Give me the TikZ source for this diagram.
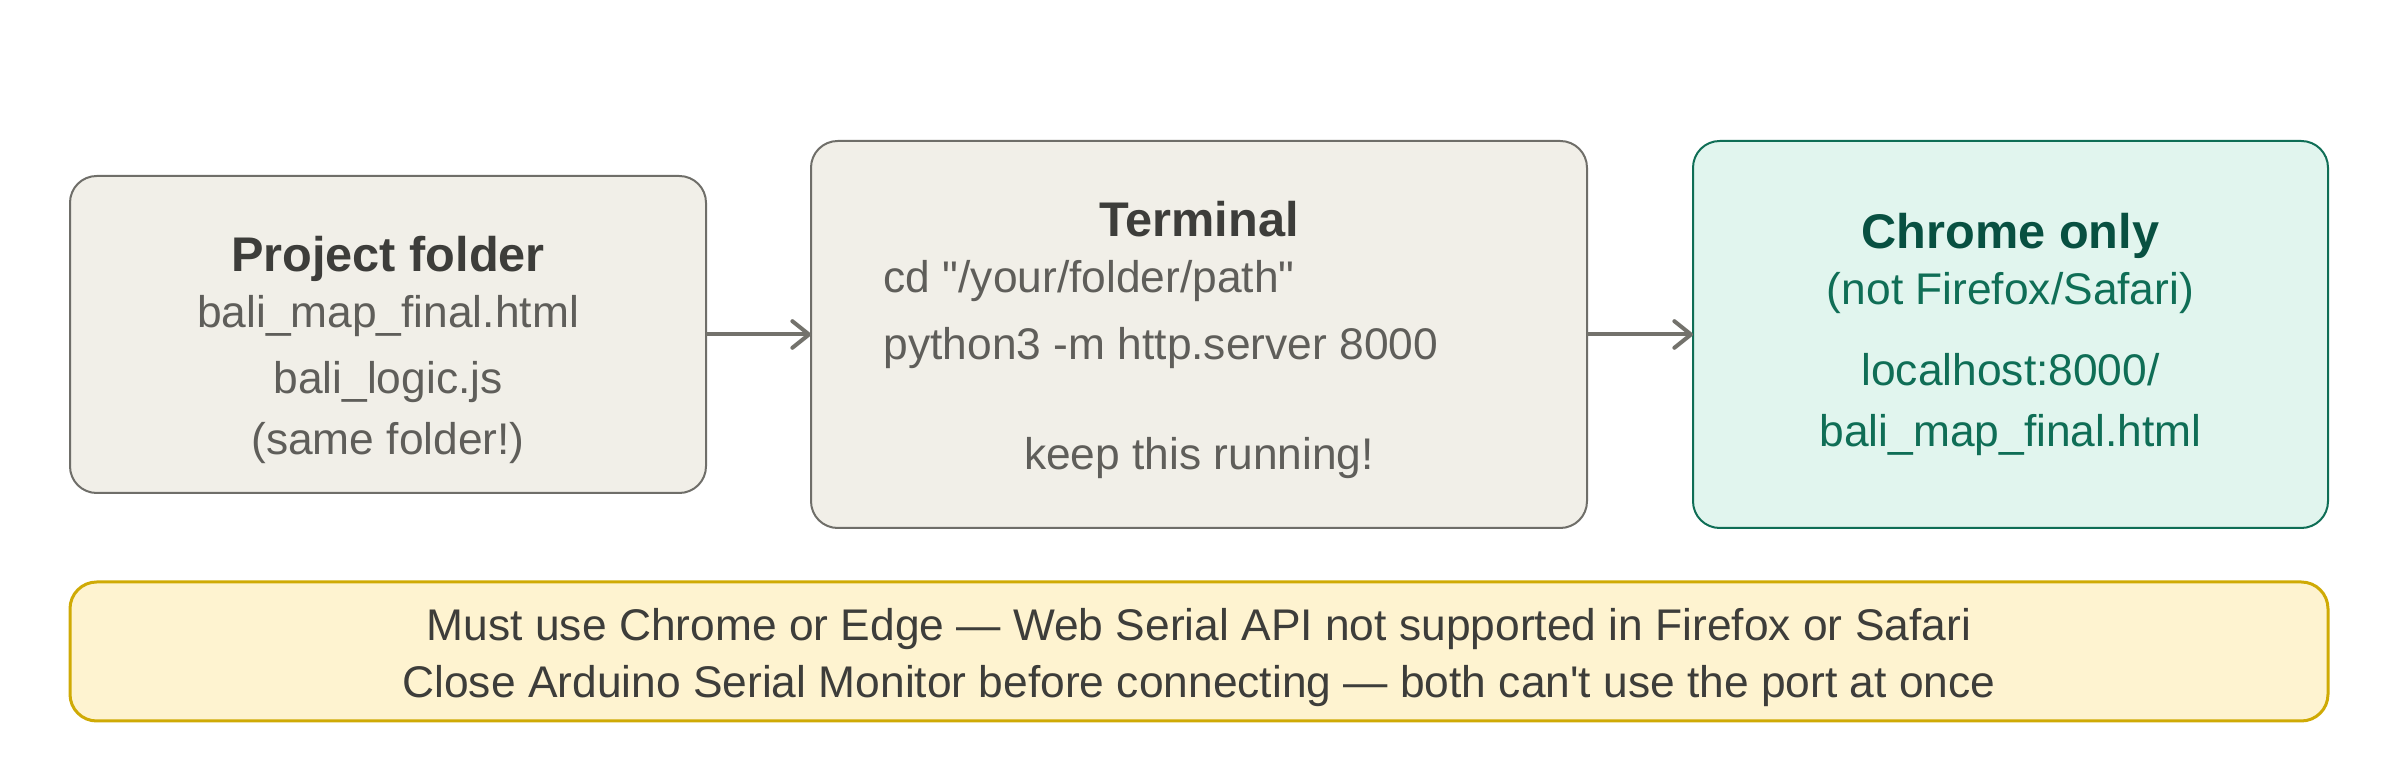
\documentclass[tikz,border=0pt]{standalone}
\usepackage{fontspec}
\setmainfont{Liberation Sans}[Ligatures=TeXOff]
\usetikzlibrary{arrows.meta}
\definecolor{boxfill}{HTML}{F1EFE8}
\definecolor{boxline}{HTML}{6F6E69}
\definecolor{titlecol}{HTML}{3D3D3A}
\definecolor{bodycol}{HTML}{5F5E5A}
\definecolor{gfill}{HTML}{E1F5EE}
\definecolor{gline}{HTML}{0F6E56}
\definecolor{gtitle}{HTML}{085041}
\definecolor{yfill}{HTML}{FEF3D0}
\definecolor{yline}{HTML}{CFAA05}
\definecolor{arrcol}{HTML}{73726C}
\tikzset{
  box/.style={draw=boxline, fill=boxfill, line width=0.6pt, rounded corners=8pt, inner sep=0pt, outer sep=0pt},
  gbox/.style={draw=gline, fill=gfill, line width=0.6pt, rounded corners=8pt, inner sep=0pt, outer sep=0pt},
  ybox/.style={draw=yline, fill=yfill, line width=0.9pt, rounded corners=8pt, inner sep=0pt, outer sep=0pt},
  txt/.style={inner sep=0pt, text height=0.72em, text depth=0.2em},
  ttl/.style={txt, font=\fontsize{14.6pt}{17pt}\selectfont\bfseries, text=titlecol},
  bdy/.style={txt, font=\fontsize{13.3pt}{16pt}\selectfont, text=bodycol},
  gttl/.style={txt, font=\fontsize{14.6pt}{17pt}\selectfont\bfseries, text=gtitle},
  gbdy/.style={txt, font=\fontsize{13.3pt}{16pt}\selectfont, text=gline},
  ytxt/.style={txt, font=\fontsize{13.3pt}{16pt}\selectfont, text=titlecol},
  arr/.style={draw=arrcol, line width=1.2pt, -{Straight Barb[length=5pt, width=8pt, round]}}
}
\begin{document}
\begin{tikzpicture}[x=0.3pt, y=-0.3pt]
\useasboundingbox (0,0) rectangle (2400,776);
\node[box, minimum width=190.8pt, minimum height=95.1pt] (b1) at (388,334.5) {};
\node[box, minimum width=232.8pt, minimum height=116.1pt] (b2) at (1199,334.5) {};
\node[gbox, minimum width=190.5pt, minimum height=116.1pt] (b3) at (2010.5,334.5) {};
\node[ybox, minimum width=677.4pt, minimum height=41.7pt] (y) at (1199,651.5) {};

\node[ttl] (t1) at (388,263) {Project folder};
\node[bdy] (l1a) at (388,319) {bali\_map\_final.html};
\node[bdy] (l1b) at (388,385) {bali\_logic.js};
\node[bdy] (l1c) at (388,446) {(same folder!)};

\node[ttl] (t2) at (1199,228) {Terminal};
\node[bdy, anchor=west] (l2a) at (883,284) {cd "/your/folder/path"};
\node[bdy, anchor=west] (l2b) at (883,351) {python3 -m http.server 8000};
\node[bdy] (l2c) at (1199,461) {keep this running!};

\node[gttl] (t3) at (2010.5,240) {Chrome only};
\node[gbdy] (l3a) at (2010.5,296) {(not Firefox/Safari)};
\node[gbdy] (l3b) at (2010.5,377) {localhost:8000/};
\node[gbdy] (l3c) at (2010.5,438) {bali\_map\_final.html};

\node[ytxt] (y1) at (1199,632) {Must use Chrome or Edge — Web Serial API not supported in Firefox or Safari};
\node[ytxt] (y2) at (1199,689) {Close Arduino Serial Monitor before connecting — both can't use the port at once};

\draw[arr] (b1.east) -- (b2.west);
\draw[arr] (b2.east) -- (b3.west);
\end{tikzpicture}
\end{document}
